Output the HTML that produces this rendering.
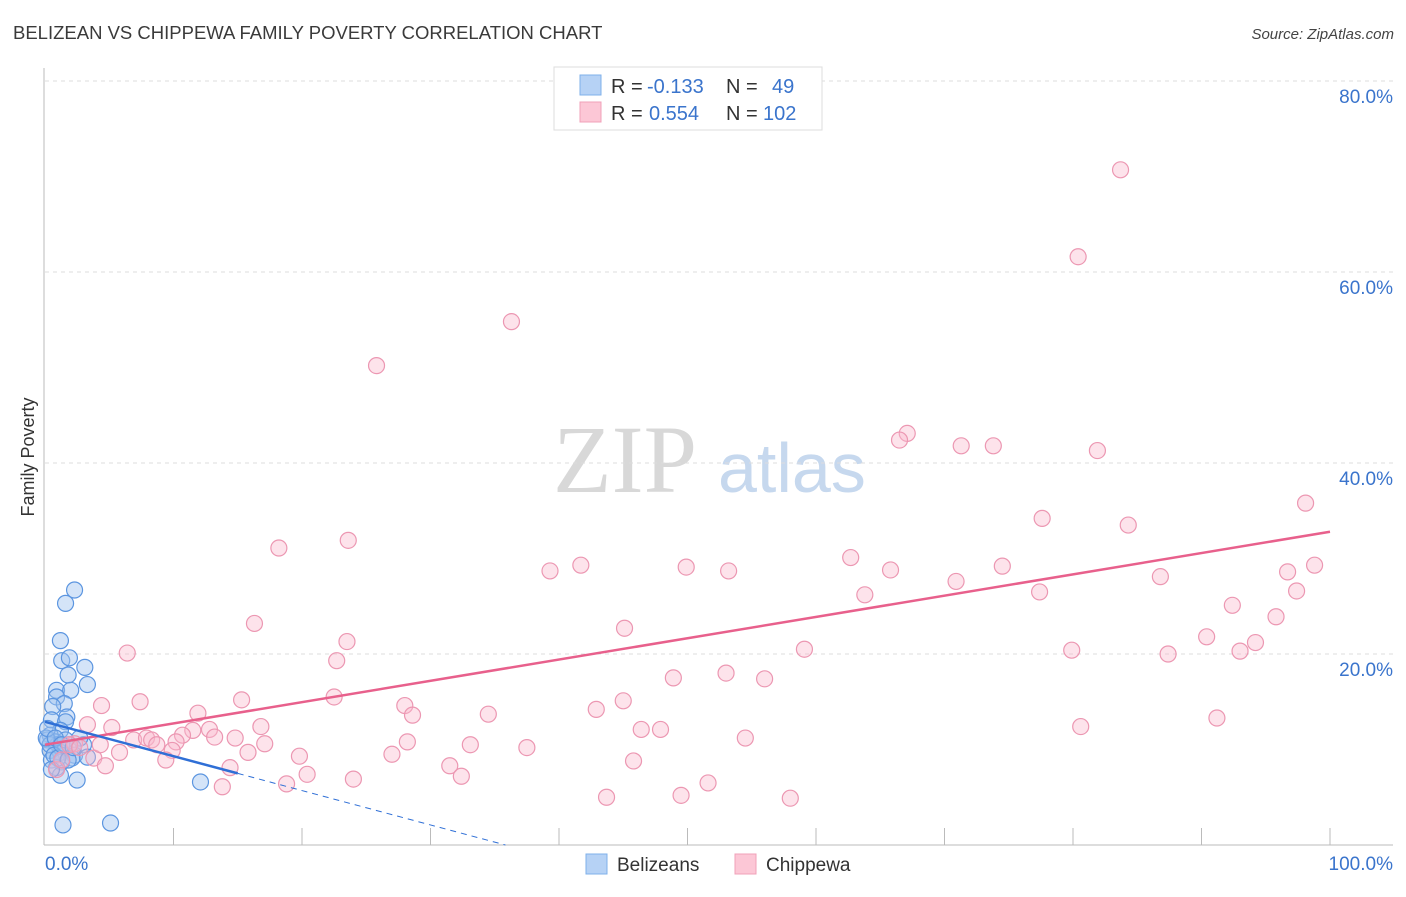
<!DOCTYPE html>
<html><head><meta charset="utf-8"><style>
body{margin:0;background:#fff;font-family:"Liberation Sans",sans-serif;}
</style></head><body>
<svg id="chart" width="1406" height="892" xmlns="http://www.w3.org/2000/svg" font-family="Liberation Sans, sans-serif">
<text x="13" y="39" font-size="18.5" fill="#3a3a3a">BELIZEAN VS CHIPPEWA FAMILY POVERTY CORRELATION CHART</text>
<text x="1394" y="39" font-size="15" fill="#444" text-anchor="end" font-style="italic">Source: ZipAtlas.com</text>
<text transform="translate(34,457) rotate(-90)" font-size="18" fill="#333" text-anchor="middle">Family Poverty</text>
<g font-size="96">
<text x="553" y="492" fill="#d8d8d8" font-family="Liberation Serif, serif">ZIP</text>
<text x="718" y="492" fill="#c6d8ee" font-size="70">atlas</text>
</g>
<g id="grid"></g>
<g id="axes"></g>
<g id="pts"></g>
<g id="lines"></g>
<g>
<rect x="554" y="67" width="268" height="63" fill="#fff" stroke="#ddd"/>
<rect x="580" y="75" width="21" height="20" fill="#b6d2f5" stroke="#7fb0ea"/>
<rect x="580" y="102" width="21" height="20" fill="#fcc7d6" stroke="#f0a0b8"/>
<text x="611" y="93" font-size="20" fill="#333">R = </text><text x="647" y="93" font-size="20" fill="#3a74cc">-0.133</text>
<text x="726" y="93" font-size="20" fill="#333">N = </text><text x="772" y="93" font-size="20" fill="#3a74cc">49</text>
<text x="611" y="120" font-size="20" fill="#333">R = </text><text x="649" y="120" font-size="20" fill="#3a74cc">0.554</text>
<text x="726" y="120" font-size="20" fill="#333">N = </text><text x="763" y="120" font-size="20" fill="#3a74cc">102</text>
</g>
<g>
<rect x="586" y="854" width="21" height="20" fill="#b6d2f5" stroke="#7fb0ea"/>
<text x="617" y="871" font-size="19" fill="#333">Belizeans</text>
<rect x="735" y="854" width="21" height="20" fill="#fcc7d6" stroke="#f0a0b8"/>
<text x="766" y="871" font-size="19" fill="#333">Chippewa</text>
</g>
</svg>
<script>
const yTicks=[20,40,60,80];
const xTickLabels=["0.0%","100.0%"];
const blueX=[2.3,1.6,1.2,1.3,1.9,3.1,1.8,3.3,0.9,2.0,0.9,1.5,0.6,1.7,0.5,1.6,1.2,0.4,0.2,0.8,1.0,1.5,1.9,3.0,0.4,1.2,2.3,3.3,0.5,1.3,2.1,0.9,1.2,2.5,12.1,1.4,5.1,0.4,0.7,1.6,2.7,0.1,0.2,1.0,1.8,0.5,0.8,1.3,2.2];
const blueY=[26.7,25.3,21.4,19.3,19.6,18.6,17.8,16.8,16.2,16.2,15.5,14.8,14.5,13.4,13.1,12.9,12.0,11.5,11.0,10.8,10.5,10.2,10.5,10.5,9.9,9.7,9.4,9.2,8.9,8.7,9.1,8.1,7.3,6.8,6.6,2.1,2.3,10.5,9.4,11.0,11.2,11.2,12.2,9.1,8.9,7.9,11.2,10.5,10.2];
const pinkX=[83.7,80.4,36.3,25.8,67.1,66.5,71.3,73.8,81.9,98.1,77.6,84.3,23.6,18.2,62.7,98.8,41.7,49.9,74.5,39.3,53.2,65.8,96.7,70.9,86.8,63.8,77.4,97.4,92.4,95.8,16.3,45.1,90.4,23.5,94.2,59.1,79.9,87.4,93.0,6.4,22.7,53.0,48.9,56.0,22.5,15.3,7.4,45.0,4.4,28.0,42.9,11.9,28.6,34.5,91.2,3.3,5.2,16.8,12.8,11.5,80.6,46.4,47.9,10.7,6.9,7.9,8.3,13.2,14.8,54.5,28.2,8.7,10.2,17.1,2.3,33.1,37.5,5.8,15.8,9.9,19.8,3.8,27.0,9.4,45.8,31.5,4.7,14.4,0.9,20.4,32.4,24.0,51.6,18.8,13.8,43.7,49.5,58.0,1.9,2.7,1.3,4.3];
const pinkY=[70.7,61.6,54.8,50.2,43.1,42.4,41.8,41.8,41.3,35.8,34.2,33.5,31.9,31.1,30.1,29.3,29.3,29.1,29.2,28.7,28.7,28.8,28.6,27.6,28.1,26.2,26.5,26.6,25.1,23.9,23.2,22.7,21.8,21.3,21.2,20.5,20.4,20.0,20.3,20.1,19.3,18.0,17.5,17.4,15.5,15.2,15.0,15.1,14.6,14.6,14.2,13.8,13.6,13.7,13.3,12.6,12.3,12.4,12.1,12.0,12.4,12.1,12.1,11.5,11.0,11.2,11.0,11.3,11.2,11.2,10.8,10.5,10.8,10.6,10.6,10.5,10.2,9.7,9.7,9.9,9.3,9.1,9.5,8.9,8.8,8.3,8.3,8.1,7.9,7.4,7.2,6.9,6.5,6.4,6.1,5.0,5.2,4.9,10.5,10.2,8.9,10.5];
const blueFit=[12.9,-0.36];
const pinkFit=[10.5,0.223];
const NS="http://www.w3.org/2000/svg";
const X=v=>45+v*12.85, Y=v=>845-v*9.55;
function mk(tag,attrs,parent){const e=document.createElementNS(NS,tag);for(const k in attrs)e.setAttribute(k,attrs[k]);document.getElementById(parent).appendChild(e);return e;}
yTicks.forEach(t=>{
 const g=mk('line',{x1:45,x2:1393,y1:Y(t),y2:Y(t),stroke:'#ddd','stroke-dasharray':'4,4'},'grid');
 
 
 const l=mk('text',{x:1393,y:Y(t)+22,'font-size':19,fill:'#3a74cc','text-anchor':'end'},'grid');
 l.textContent=t.toFixed(1)+'%';
 
 
});
const ax=mk('line',{x1:44,x2:44,y1:68,y2:845,stroke:'#bbb'},'axes');


const bx=mk('line',{x1:44,x2:1393,y1:845,y2:845,stroke:'#bbb'},'axes');


for(let i=1;i<=10;i++){const t=mk('line',{x1:X(i*10),x2:X(i*10),y1:828,y2:845,stroke:'#bbb'},'axes');
 
 }
[[0,'start',45],[100,'end',1393]].forEach((d,i)=>{const t=mk('text',{x:d[2],y:870,'font-size':19,fill:'#3a74cc','text-anchor':d[1]},'axes');t.textContent=xTickLabels[i];
 
 });
blueX.forEach((v,i)=>{const c=mk('circle',{cx:X(v),cy:Y(blueY[i]),r:8,fill:'rgba(160,196,240,0.45)',stroke:'#5b95e0','stroke-width':1.2},'pts');
 
 });
pinkX.forEach((v,i)=>{const c=mk('circle',{cx:X(v),cy:Y(pinkY[i]),r:8,fill:'rgba(250,185,205,0.4)',stroke:'#ec97b2','stroke-width':1.2},'pts');
 
 });
const pl=mk('line',{x1:X(0),y1:Y(pinkFit[0]),x2:X(100),y2:Y(pinkFit[0]+pinkFit[1]*100),stroke:'#e8608c','stroke-width':2.5},'lines');


const bl=mk('line',{x1:X(0),y1:Y(blueFit[0]),x2:X(15),y2:Y(blueFit[0]+blueFit[1]*15),stroke:'#2f6fd6','stroke-width':2.5},'lines');


const xe=-blueFit[0]/blueFit[1];
const bd=mk('line',{x1:X(15),y1:Y(blueFit[0]+blueFit[1]*15),x2:X(xe),y2:Y(0),stroke:'#2f6fd6','stroke-width':1,'stroke-dasharray':'6,5'},'lines');


</script>
</body></html>
